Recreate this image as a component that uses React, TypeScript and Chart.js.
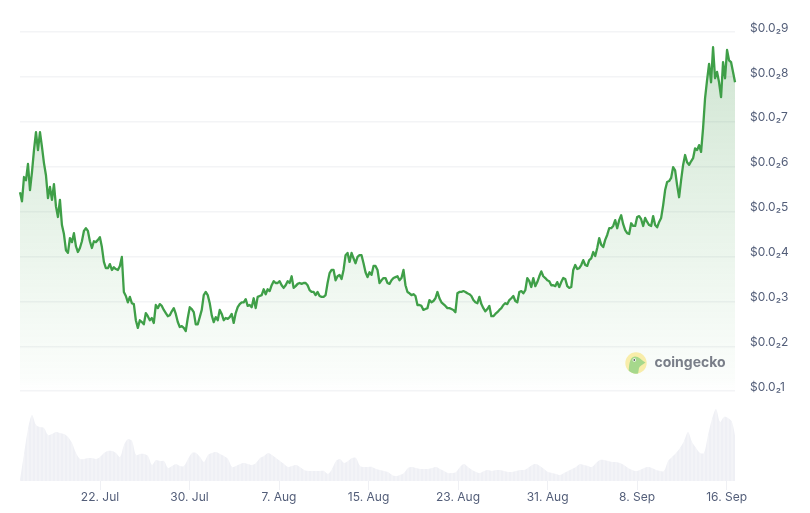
import React, { useEffect, useRef } from "react";
import { Chart, registerables } from "chart.js";

Chart.register(...registerables);

// Prices in thousandths of a dollar, one sample every 0.1785 days
const pricesMilli = [
  5.43,5.23,5.77,5.70,6.06,5.48,5.88,6.37,6.77,6.37,6.77,6.44,6.08,5.81,5.30,5.55,5.26,5.61,5.12,4.88,
  5.26,4.70,4.50,4.14,4.08,4.41,4.32,4.52,4.23,4.10,4.19,4.34,4.57,4.63,4.57,4.34,4.19,4.34,4.32,4.37,
  4.43,4.21,3.88,3.74,3.74,3.83,3.70,3.76,3.72,3.70,3.79,3.99,3.21,3.12,2.98,3.10,2.96,2.94,2.58,2.41,
  2.58,2.54,2.49,2.74,2.67,2.58,2.63,2.52,2.92,2.85,2.94,2.90,2.81,2.74,2.67,2.69,2.78,2.85,2.72,2.54,
  2.43,2.45,2.41,2.34,2.63,2.87,2.83,2.76,2.49,2.49,2.65,2.81,3.14,3.21,3.14,2.96,2.69,2.54,2.65,2.58,
  2.81,2.72,2.58,2.63,2.61,2.65,2.72,2.52,2.74,2.87,2.94,2.98,2.98,3.05,2.90,2.92,2.87,3.07,2.85,3.10,
  3.12,3.14,3.27,3.16,3.27,3.23,3.36,3.45,3.41,3.41,3.45,3.36,3.30,3.36,3.45,3.41,3.56,3.30,3.34,3.39,
  3.41,3.39,3.41,3.41,3.36,3.25,3.21,3.21,3.14,3.21,3.12,3.10,3.10,3.14,3.41,3.63,3.70,3.70,3.47,3.56,
  3.59,3.50,3.70,4.03,4.08,3.88,4.08,3.96,3.85,3.99,4.03,4.03,3.85,3.65,3.54,3.65,3.59,3.79,3.79,3.70,
  3.41,3.47,3.52,3.52,3.41,3.39,3.47,3.52,3.54,3.56,3.47,3.52,3.70,3.36,3.21,3.18,3.14,3.16,3.12,2.92,
  2.92,2.90,2.81,2.83,2.85,3.03,2.98,3.01,3.07,3.21,3.07,2.98,2.94,2.90,2.85,2.85,2.83,2.81,2.76,3.18,
  3.21,3.21,3.23,3.21,3.18,3.16,3.12,3.03,2.98,2.96,3.10,2.94,2.85,2.78,2.83,2.90,2.67,2.67,2.72,2.76,
  2.81,2.85,2.92,2.96,2.94,3.03,3.07,3.12,3.01,2.98,3.21,3.23,3.18,3.25,3.52,3.45,3.32,3.52,3.34,3.43,
  3.56,3.67,3.56,3.52,3.47,3.45,3.36,3.36,3.34,3.43,3.32,3.43,3.52,3.50,3.34,3.30,3.32,3.70,3.81,3.72,
  3.74,3.81,3.92,3.81,3.79,3.92,3.96,4.10,4.01,4.19,4.41,4.26,4.21,4.37,4.48,4.63,4.63,4.68,4.81,4.63,
  4.81,4.92,4.72,4.59,4.52,4.50,4.74,4.68,4.68,4.88,4.90,4.83,4.68,4.86,4.77,4.70,4.68,4.90,4.70,4.65,
  4.77,4.86,5.14,5.48,5.66,5.68,5.75,5.99,5.92,5.59,5.32,5.70,6.04,6.26,6.10,6.04,6.12,6.19,6.41,6.37,
  6.48,6.33,6.86,7.53,7.93,8.29,7.88,8.66,7.97,8.11,7.88,7.55,8.33,7.97,8.60,8.37,8.33,8.11,7.88,
];

// Volume in arbitrary units, one sample every 0.3575 days
const volumes = [
  1,27,52,66,56,54,53,46,47,49,48,47,44,38,28,22,22,23,23,22,
  24,28,30,30,28,24,36,42,40,26,27,27,25,16,21,20,20,13,15,17,
  15,15,22,28,28,24,19,26,28,29,27,25,22,14,15,17,18,17,16,18,
  23,25,28,26,23,20,17,14,15,16,14,11,10,10,10,10,10,7,12,20,
  22,18,20,23,23,15,14,14,14,12,11,10,9,6,5,6,8,13,14,13,
  12,12,12,13,14,12,10,8,8,9,14,17,14,11,9,8,10,11,10,11,
  11,10,9,9,10,11,11,13,16,17,15,12,9,8,7,6,8,10,12,14,
  17,16,15,14,18,21,21,20,19,19,18,16,13,11,10,11,13,14,13,11,
  10,10,20,24,28,33,40,49,39,33,28,28,46,62,72,59,64,63,59,40,
];

const dateTicks = [0, 8, 16, 24, 32, 40, 48, 56];
const dateLabels = ["22. Jul", "30. Jul", "7. Aug", "15. Aug", "23. Aug", "31. Aug", "8. Sep", "16. Sep"];
const priceTicks = [1, 2, 3, 4, 5, 6, 7, 8, 9];

const firstDay = -7.15;
const lastDay = 56.75;
const priceStep = 0.1785;
const volumeStep = 0.3575;

const FONT = "Inter";
const LABEL = "#535e79";

const watermark = {
  id: "watermark",
  afterDatasetsDraw(chart: any) {
    const { ctx } = chart;
    const cx = 636;
    const cy = 363;
    ctx.save();
    ctx.beginPath();
    ctx.arc(cx, cy, 10.7, 0, Math.PI * 2);
    ctx.fillStyle = "#f8edaa";
    ctx.fill();
    ctx.clip();
    ctx.beginPath();
    ctx.moveTo(cx - 7.5, cy + 11);
    ctx.bezierCurveTo(cx - 7, cy + 2, cx - 6.5, cy - 6.5, cx - 1, cy - 6.5);
    ctx.bezierCurveTo(cx + 3, cy - 6.5, cx + 5, cy - 3, cx + 9.5, cy - 0.5);
    ctx.bezierCurveTo(cx + 6, cy + 2, cx + 3.5, cy + 3, cx + 3, cy + 5);
    ctx.lineTo(cx + 2, cy + 11);
    ctx.closePath();
    ctx.fillStyle = "#a6d88c";
    ctx.fill();
    ctx.beginPath();
    ctx.arc(cx - 1.7, cy - 3, 1.8, 0, Math.PI * 2);
    ctx.fillStyle = "#ffffff";
    ctx.fill();
    ctx.beginPath();
    ctx.arc(cx - 1.7, cy - 3, 0.9, 0, Math.PI * 2);
    ctx.fillStyle = "#555b55";
    ctx.fill();
    ctx.restore();
    ctx.save();
    ctx.font = `700 14px ${FONT}`;
    ctx.fillStyle = "#797e88";
    ctx.textBaseline = "middle";
    ctx.fillText("coingecko", 654.5, 362.5);
    ctx.restore();
  },
};

export default function App() {
  const ref = useRef<HTMLCanvasElement>(null);
  useEffect(() => {
    const volumePoints = volumes.map((v, i) => ({ x: firstDay + i * volumeStep, y: v }));
    const chart = new Chart(ref.current as HTMLCanvasElement, {
      type: "bar",
      plugins: [watermark],
      data: {
        datasets: [
          {
            type: "line",
            label: "Price",
            yAxisID: "y",
            order: 1,
            data: pricesMilli.map((v, i) => ({ x: firstDay + i * priceStep, y: v })),
            borderColor: "#3f9f48",
            borderWidth: 2.3,
            borderJoinStyle: "round",
            pointRadius: 0,
            tension: 0,
            clip: false,
            fill: { value: 1 },
            backgroundColor: (c: any) => {
              const { chart: ch } = c;
              const s = ch.scales.y;
              if (!ch.chartArea || !s) return "rgba(65,161,74,0.1)";
              const g = ch.ctx.createLinearGradient(0, s.getPixelForValue(8.7), 0, s.getPixelForValue(1));
              g.addColorStop(0, "rgba(50,140,60,0.23)");
              g.addColorStop(0.96, "rgba(70,170,80,0.025)");
              g.addColorStop(1, "rgba(70,170,80,0.0)");
              return g;
            },
          },
          {
            type: "bar",
            label: "Volume stripes",
            yAxisID: "v",
            order: 2,
            data: volumePoints,
            backgroundColor: "rgba(255,255,255,0.3)",
            barThickness: 1,
            borderWidth: 0,
          },
          {
            type: "line",
            label: "Volume",
            yAxisID: "v",
            order: 3,
            data: volumePoints,
            borderWidth: 0,
            pointRadius: 0,
            tension: 0.3,
            fill: "origin",
            backgroundColor: "#eff0f5",
          },
        ],
      } as any,
      options: {
        animation: false,
        responsive: false,
        devicePixelRatio: 1,
        layout: { padding: { left: 20, top: 32, right: 0, bottom: 0 } },
        plugins: { legend: { display: false }, tooltip: { enabled: false } },
        scales: {
          x: {
            type: "linear",
            min: firstDay,
            max: lastDay,
            offset: false,
            border: { display: false },
            grid: { offset: false, drawOnChartArea: false, drawTicks: true, tickLength: 9, tickColor: "#eff0f4", tickWidth: 1 },
            afterBuildTicks: (s: any) => { s.ticks = dateTicks.map((value) => ({ value })); },
            afterFit: (s: any) => { s.height = 32; },
            ticks: {
              autoSkip: false,
              maxRotation: 0,
              padding: 0,
              color: LABEL,
              font: { family: FONT, size: 12 },
              callback: (v: any) => dateLabels[dateTicks.indexOf(Number(v))],
            },
          },
          y: {
            type: "linear",
            position: "right",
            min: -1,
            max: 9,
            border: { display: false },
            grid: { color: "#f3f4f6", lineWidth: 1.5, drawTicks: false },
            afterBuildTicks: (s: any) => { s.ticks = priceTicks.map((value) => ({ value })); },
            afterFit: (s: any) => { s.width = 75; },
            ticks: {
              autoSkip: false,
              padding: 15,
              labelOffset: -4,
              color: LABEL,
              font: { family: FONT, size: 12 },
              callback: (v: any) => `$0.0₂${v}`,
            },
          },
          v: {
            type: "linear",
            display: false,
            min: 0,
            max: 449,
          },
        },
      } as any,
    });
    return () => chart.destroy();
  }, []);
  return (
    <div style={{ position: "absolute", left: 0, top: 0, width: 810, height: 513, background: "#fff" }}>
      <canvas ref={ref} width={810} height={513} style={{ display: "block" }} />
    </div>
  );
}
